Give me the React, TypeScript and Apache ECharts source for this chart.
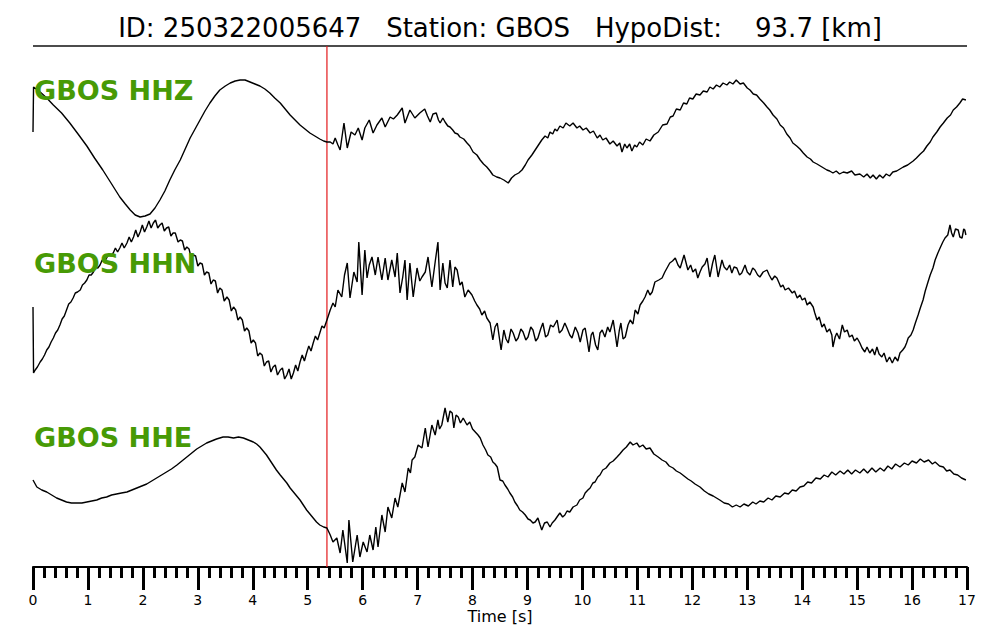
import React, { useEffect, useRef } from "react";
import * as echarts from "echarts";

const TITLE = "ID: 250322005647   Station: GBOS   HypoDist:    93.7 [km]";
const STATION_LABELS = ["GBOS HHZ", "GBOS HHN", "GBOS HHE"];
const X_AXIS_NAME = "Time [s]";
const T_MIN = 0;
const T_MAX = 17;
const P_PICK = 5.35;

// HHZ trace: [time (s), amplitude (counts, arbitrary)]
const hhz: [number, number][] = [
  [0, 18], [0.01, 63], [0.13, 58], [0.25, 52], [0.37, 45], [0.52, 37], [0.67, 27], [0.82, 16], [0.98, 4],
  [1.12, -8], [1.27, -20], [1.42, -33], [1.58, -47], [1.68, -54], [1.77, -60], [1.86, -65], [1.95, -67],
  [2.04, -66], [2.13, -64], [2.22, -58], [2.31, -50], [2.40, -41], [2.49, -30], [2.58, -20], [2.68, -10],
  [2.77, 1], [2.86, 12], [2.95, 21], [3.04, 30], [3.13, 39], [3.22, 47], [3.31, 54], [3.40, 60], [3.50, 64],
  [3.59, 67], [3.68, 69], [3.77, 70], [3.86, 70], [3.95, 68], [4.04, 66], [4.13, 64], [4.22, 61], [4.31, 57],
  [4.40, 52], [4.50, 47], [4.59, 41], [4.68, 35], [4.77, 30], [4.86, 25], [4.95, 21], [5.04, 17], [5.13, 14],
  [5.22, 11], [5.29, 9], [5.35, 8], [5.41, 8], [5.46, 6], [5.50, 12], [5.55, 5], [5.59, 0], [5.66, 27],
  [5.72, 2], [5.79, 18], [5.86, 15], [5.92, 22], [5.99, 10], [6.04, 22], [6.12, 30], [6.19, 17], [6.26, 25],
  [6.35, 32], [6.41, 23], [6.50, 33], [6.56, 31], [6.63, 35], [6.72, 42], [6.77, 27], [6.86, 40], [6.95, 32],
  [7.04, 37], [7.13, 41], [7.18, 34], [7.23, 28], [7.28, 36], [7.34, 37], [7.38, 30], [7.41, 27], [7.46, 32],
  [7.50, 28], [7.55, 24], [7.59, 23], [7.64, 20], [7.68, 17], [7.73, 16], [7.77, 13], [7.84, 11], [7.90, 7],
  [7.95, 4], [8.01, -2], [8.08, -5], [8.14, -10], [8.20, -14], [8.26, -17], [8.32, -21], [8.37, -25],
  [8.44, -27], [8.50, -28], [8.57, -30], [8.65, -33], [8.71, -28], [8.77, -25], [8.84, -23], [8.90, -20],
  [8.96, -15], [9.01, -10], [9.08, -5], [9.14, 0], [9.20, 5], [9.26, 10], [9.32, 14], [9.37, 12], [9.41, 18],
  [9.46, 16], [9.50, 21], [9.54, 19], [9.59, 24], [9.65, 22], [9.70, 27], [9.77, 24], [9.83, 27], [9.90, 22],
  [9.95, 24], [10.01, 20], [10.07, 22], [10.14, 17], [10.20, 19], [10.27, 12], [10.32, 15], [10.37, 10],
  [10.43, 12], [10.50, 6], [10.56, 9], [10.63, 4], [10.68, 7], [10.72, -2], [10.77, 6], [10.81, 2],
  [10.86, 6], [10.90, -1], [10.95, 5], [10.99, 3], [11.04, 8], [11.10, 5], [11.16, 11], [11.23, 9],
  [11.30, 15], [11.38, 18], [11.46, 25], [11.54, 26], [11.60, 33], [11.65, 34], [11.71, 41], [11.78, 40],
  [11.84, 47], [11.90, 46], [11.95, 52], [12.01, 51], [12.07, 56], [12.14, 55], [12.20, 59], [12.27, 58],
  [12.32, 63], [12.38, 61], [12.44, 65], [12.50, 63], [12.56, 67], [12.63, 65], [12.68, 68], [12.74, 66],
  [12.80, 70], [12.87, 66], [12.93, 67], [13.00, 62], [13.05, 60], [13.11, 56], [13.17, 55], [13.23, 51],
  [13.30, 47], [13.36, 43], [13.41, 40], [13.47, 35], [13.54, 31], [13.60, 25], [13.66, 22], [13.72, 16],
  [13.78, 12], [13.83, 7], [13.90, 4], [13.96, 1], [14.02, -3], [14.09, -7], [14.15, -9], [14.20, -12],
  [14.27, -14], [14.33, -16], [14.39, -18], [14.45, -20], [14.50, -21], [14.56, -23], [14.62, -21],
  [14.68, -24], [14.75, -22], [14.82, -23], [14.90, -21], [14.96, -25], [15.05, -24], [15.12, -27],
  [15.18, -24], [15.24, -28], [15.29, -25], [15.35, -29], [15.41, -25], [15.47, -28], [15.53, -24],
  [15.59, -26], [15.65, -22], [15.72, -21], [15.78, -19], [15.84, -17], [15.92, -15], [16.02, -11],
  [16.08, -8], [16.15, -4], [16.21, -1], [16.27, 4], [16.33, 8], [16.38, 13], [16.45, 18], [16.51, 23],
  [16.57, 27], [16.64, 32], [16.70, 35], [16.75, 40], [16.81, 43], [16.87, 47], [16.92, 51], [16.98, 50],
];

// HHN trace
const hhn: [number, number][] = [
  [0, -2], [0.01, -68], [0.04, -65], [0.08, -62], [0.13, -57], [0.17, -54], [0.21, -50], [0.25, -45],
  [0.29, -42], [0.33, -37], [0.37, -33], [0.41, -28], [0.45, -25], [0.49, -20], [0.53, -14], [0.57, -11],
  [0.61, -5], [0.65, 1], [0.69, 3], [0.73, 7], [0.77, 12], [0.81, 13], [0.86, 15], [0.90, 20], [0.94, 22],
  [0.98, 25], [1.02, 30], [1.06, 30], [1.10, 33], [1.14, 38], [1.18, 37], [1.22, 40], [1.26, 45], [1.30, 43],
  [1.34, 47], [1.38, 51], [1.42, 49], [1.46, 52], [1.50, 57], [1.54, 53], [1.58, 57], [1.62, 62], [1.66, 57],
  [1.71, 62], [1.75, 68], [1.79, 63], [1.83, 68], [1.87, 75], [1.91, 68], [1.95, 73], [1.99, 80], [2.03, 73],
  [2.07, 78], [2.11, 84], [2.15, 77], [2.19, 82], [2.23, 85], [2.27, 77], [2.31, 80], [2.35, 82], [2.39, 74],
  [2.43, 77], [2.47, 78], [2.51, 69], [2.55, 72], [2.59, 72], [2.64, 63], [2.68, 65], [2.72, 64], [2.76, 55],
  [2.80, 58], [2.84, 56], [2.88, 47], [2.92, 50], [2.96, 49], [3.00, 39], [3.04, 42], [3.08, 41], [3.12, 30],
  [3.16, 33], [3.20, 32], [3.24, 21], [3.28, 25], [3.32, 24], [3.36, 12], [3.40, 17], [3.44, 15], [3.48, 4],
  [3.53, 8], [3.57, 5], [3.61, -6], [3.65, -2], [3.69, -5], [3.73, -15], [3.77, -12], [3.81, -15], [3.85, -26],
  [3.89, -23], [3.93, -26], [3.97, -38], [4.01, -35], [4.05, -38], [4.09, -51], [4.13, -48], [4.17, -50],
  [4.21, -61], [4.25, -57], [4.29, -56], [4.33, -67], [4.37, -62], [4.41, -60], [4.45, -70], [4.50, -65],
  [4.54, -63], [4.58, -74], [4.62, -70], [4.66, -64], [4.70, -74], [4.74, -68], [4.78, -60], [4.82, -66],
  [4.86, -57], [4.90, -50], [4.94, -56], [4.98, -48], [5.02, -41], [5.06, -46], [5.10, -38], [5.14, -31],
  [5.18, -35], [5.22, -28], [5.26, -21], [5.30, -23], [5.35, -15], [5.41, -5], [5.46, 2], [5.50, -2],
  [5.55, 15], [5.62, 8], [5.67, 30], [5.72, 42], [5.77, 7], [5.84, 33], [5.90, 23], [5.93, 63], [5.99, 10],
  [6.04, 55], [6.08, 27], [6.12, 40], [6.17, 48], [6.23, 30], [6.28, 48], [6.35, 25], [6.41, 47], [6.46, 25],
  [6.53, 45], [6.59, 28], [6.63, 52], [6.68, 12], [6.73, 28], [6.77, 45], [6.81, 5], [6.86, 42], [6.92, 8],
  [6.99, 37], [7.04, 24], [7.08, 28], [7.14, 33], [7.19, 48], [7.26, 18], [7.32, 43], [7.37, 63], [7.41, 15],
  [7.46, 42], [7.50, 22], [7.54, 17], [7.59, 45], [7.64, 18], [7.68, 38], [7.72, 35], [7.77, 20], [7.81, 23],
  [7.86, 8], [7.92, 15], [7.99, 10], [8.04, 4], [8.08, 0], [8.13, -4], [8.17, -10], [8.22, -6], [8.26, -13],
  [8.32, -18], [8.37, -35], [8.41, -22], [8.45, -18], [8.52, -45], [8.57, -25], [8.61, -34], [8.65, -38],
  [8.70, -24], [8.74, -28], [8.79, -36], [8.83, -33], [8.88, -24], [8.92, -27], [8.97, -35], [9.01, -32],
  [9.06, -22], [9.10, -25], [9.15, -36], [9.19, -33], [9.24, -24], [9.28, -18], [9.33, -32], [9.37, -30],
  [9.42, -20], [9.47, -22], [9.54, -15], [9.58, -28], [9.63, -25], [9.68, -18], [9.72, -23], [9.77, -30],
  [9.81, -33], [9.87, -22], [9.92, -28], [9.96, -37], [10.01, -25], [10.05, -23], [10.09, -36], [10.12, -47],
  [10.16, -30], [10.19, -27], [10.24, -40], [10.28, -45], [10.32, -28], [10.36, -25], [10.41, -32],
  [10.46, -22], [10.50, -27], [10.56, -15], [10.60, -30], [10.63, -42], [10.67, -26], [10.70, -18],
  [10.74, -34], [10.78, -32], [10.83, -20], [10.87, -15], [10.92, -19], [10.96, -5], [11.01, -9], [11.05, 0],
  [11.10, 4], [11.14, 8], [11.19, 15], [11.23, 10], [11.27, 13], [11.32, 23], [11.39, 25], [11.45, 27],
  [11.50, 33], [11.55, 38], [11.59, 42], [11.64, 44], [11.69, 47], [11.74, 40], [11.78, 37], [11.85, 50],
  [11.92, 35], [11.97, 40], [12.01, 33], [12.06, 36], [12.10, 27], [12.14, 33], [12.18, 38], [12.23, 41],
  [12.27, 47], [12.32, 28], [12.37, 42], [12.41, 50], [12.47, 28], [12.54, 45], [12.58, 38], [12.63, 35],
  [12.68, 40], [12.72, 32], [12.76, 38], [12.81, 37], [12.86, 30], [12.90, 32], [12.96, 40], [13.00, 33],
  [13.05, 30], [13.10, 37], [13.14, 35], [13.19, 30], [13.23, 28], [13.29, 33], [13.36, 35], [13.40, 30],
  [13.45, 25], [13.50, 29], [13.54, 27], [13.58, 22], [13.61, 18], [13.65, 20], [13.69, 15], [13.75, 17],
  [13.82, 12], [13.86, 14], [13.91, 7], [13.96, 10], [14.00, 5], [14.05, 7], [14.09, 0], [14.14, 3],
  [14.20, -2], [14.23, -8], [14.27, -15], [14.31, -12], [14.36, -22], [14.40, -19], [14.45, -27], [14.50, -24],
  [14.54, -30], [14.56, -42], [14.60, -32], [14.63, -28], [14.68, -34], [14.73, -20], [14.77, -27],
  [14.82, -25], [14.86, -32], [14.91, -30], [14.95, -36], [15.00, -33], [15.05, -38], [15.09, -43],
  [15.14, -47], [15.18, -42], [15.23, -48], [15.28, -44], [15.32, -50], [15.36, -42], [15.40, -49],
  [15.45, -52], [15.49, -48], [15.54, -57], [15.59, -52], [15.64, -58], [15.69, -52], [15.74, -56],
  [15.78, -48], [15.83, -45], [15.87, -42], [15.90, -38], [15.93, -33], [15.98, -30], [16.02, -25],
  [16.06, -18], [16.11, -10], [16.15, -3], [16.20, 5], [16.24, 14], [16.29, 23], [16.33, 30], [16.38, 37],
  [16.42, 45], [16.47, 52], [16.51, 57], [16.56, 63], [16.60, 67], [16.65, 70], [16.69, 80], [16.72, 72],
  [16.75, 68], [16.79, 76], [16.84, 75], [16.87, 68], [16.91, 67], [16.94, 76], [16.96, 75], [16.98, 70],
];

// HHE trace
const hhe: [number, number][] = [
  [0, 5], [0.07, -2], [0.16, -5], [0.25, -7], [0.34, -10], [0.43, -13], [0.52, -15], [0.61, -17],
  [0.70, -18], [0.80, -18], [0.89, -18], [0.98, -17], [1.07, -16], [1.16, -15], [1.25, -13], [1.34, -12],
  [1.43, -10], [1.52, -9], [1.61, -8], [1.71, -7], [1.80, -5], [1.89, -3], [1.98, -1], [2.07, 1], [2.16, 4],
  [2.25, 7], [2.34, 10], [2.43, 13], [2.52, 16], [2.62, 20], [2.71, 24], [2.80, 28], [2.89, 32], [2.98, 36],
  [3.07, 39], [3.16, 42], [3.25, 44], [3.34, 46], [3.40, 47], [3.46, 48], [3.55, 48], [3.65, 47], [3.74, 48],
  [3.83, 47], [3.92, 45], [4.01, 43], [4.07, 41], [4.13, 38], [4.19, 34], [4.25, 30], [4.31, 25], [4.37, 20],
  [4.43, 15], [4.50, 10], [4.56, 6], [4.62, 2], [4.68, -3], [4.74, -7], [4.80, -11], [4.86, -15], [4.92, -20],
  [4.98, -25], [5.04, -29], [5.10, -33], [5.16, -37], [5.22, -40], [5.29, -42], [5.35, -43], [5.41, -50],
  [5.46, -57], [5.53, -53], [5.59, -68], [5.64, -45], [5.72, -78], [5.75, -35], [5.82, -77], [5.90, -50],
  [5.95, -72], [6.01, -57], [6.08, -67], [6.13, -50], [6.19, -65], [6.24, -42], [6.28, -62], [6.35, -30],
  [6.41, -47], [6.46, -22], [6.53, -33], [6.59, -13], [6.64, -22], [6.72, 2], [6.77, -7], [6.83, 17],
  [6.87, 12], [6.90, 25], [6.95, 28], [7.01, 40], [7.08, 37], [7.14, 57], [7.19, 38], [7.26, 60], [7.32, 50],
  [7.37, 65], [7.40, 56], [7.44, 60], [7.50, 77], [7.55, 63], [7.59, 74], [7.63, 72], [7.66, 57], [7.70, 70],
  [7.74, 68], [7.78, 62], [7.83, 67], [7.90, 60], [7.95, 63], [8.00, 56], [8.05, 53], [8.10, 50], [8.14, 47],
  [8.19, 40], [8.24, 35], [8.28, 30], [8.33, 28], [8.37, 23], [8.41, 21], [8.45, 18], [8.50, 5], [8.55, 4],
  [8.59, 0], [8.64, -4], [8.68, -8], [8.73, -12], [8.77, -17], [8.82, -21], [8.86, -25], [8.91, -27],
  [8.96, -30], [9.01, -34], [9.05, -35], [9.10, -38], [9.14, -37], [9.19, -33], [9.23, -40], [9.26, -45],
  [9.31, -38], [9.36, -37], [9.41, -42], [9.45, -38], [9.50, -35], [9.55, -31], [9.59, -28], [9.64, -32],
  [9.68, -30], [9.72, -26], [9.77, -27], [9.83, -22], [9.90, -20], [9.95, -15], [10.01, -13], [10.05, -8],
  [10.10, -5], [10.14, -3], [10.19, 2], [10.23, 3], [10.28, 8], [10.32, 10], [10.37, 15], [10.43, 17],
  [10.50, 22], [10.56, 24], [10.63, 28], [10.68, 31], [10.74, 35], [10.80, 38], [10.87, 43], [10.92, 40],
  [10.99, 42], [11.04, 38], [11.10, 40], [11.16, 36], [11.23, 37], [11.30, 31], [11.38, 28], [11.45, 25],
  [11.52, 23], [11.58, 19], [11.65, 17], [11.71, 14], [11.78, 12], [11.85, 9], [11.92, 6], [11.98, 4],
  [12.05, 1], [12.14, -2], [12.22, -6], [12.30, -9], [12.38, -11], [12.44, -13], [12.50, -15], [12.58, -18],
  [12.66, -19], [12.73, -22], [12.80, -20], [12.87, -22], [12.94, -19], [13.02, -21], [13.10, -17],
  [13.16, -19], [13.23, -16], [13.30, -17], [13.38, -13], [13.45, -15], [13.52, -11], [13.60, -12],
  [13.68, -8], [13.75, -9], [13.82, -5], [13.89, -6], [13.96, -2], [14.03, -1], [14.10, 3], [14.17, 2],
  [14.25, 7], [14.33, 6], [14.40, 10], [14.47, 8], [14.54, 13], [14.61, 10], [14.69, 14], [14.76, 11],
  [14.83, 15], [14.90, 11], [14.97, 15], [15.05, 12], [15.12, 16], [15.19, 12], [15.27, 17], [15.34, 13],
  [15.42, 17], [15.49, 14], [15.56, 19], [15.63, 16], [15.70, 21], [15.78, 18], [15.86, 22], [15.93, 20],
  [16.00, 24], [16.08, 22], [16.15, 26], [16.22, 23], [16.30, 25], [16.37, 21], [16.42, 23], [16.50, 19],
  [16.57, 18], [16.63, 14], [16.69, 15], [16.76, 11], [16.83, 10], [16.90, 7], [16.98, 5],
];

const TRACES = [hhz, hhn, hhe];
const AMP_MIN = [-72, -85, -82];
const AMP_MAX = [72, 85, 85];

export default function App() {
  const ref = useRef<HTMLDivElement>(null);

  useEffect(() => {
    if (!ref.current) return;
    const chart = echarts.init(ref.current, undefined, { renderer: "svg" });
    const font = "'DejaVu Sans', 'Liberation Sans', sans-serif";
    const grids = [
      { left: 33, right: 33, top: 78, height: 144 },
      { left: 33, right: 33, top: 220, height: 170 },
      { left: 33, right: 33, top: 400, height: 167 },
      { left: 33, right: 33, top: 46, height: 521 },
    ];
    const xAxes: any[] = grids.map((_, i) => ({
      type: "value",
      gridIndex: i,
      min: T_MIN,
      max: T_MAX,
      interval: 1,
      show: i === 2,
      axisLine: { show: true, onZero: false, lineStyle: { color: "#000", width: 2 } },
      axisTick: { show: true, inside: false, length: 23, lineStyle: { color: "#000", width: 3 } },
      minorTick: { show: true, splitNumber: 5, length: 11, lineStyle: { color: "#000", width: 3 } },
      axisLabel: { show: true, color: "#000", fontSize: 14, margin: 26, fontFamily: font },
      splitLine: { show: false },
      minorSplitLine: { show: false },
    }));
    const yAxes: any[] = grids.map((_, i) => ({
      type: "value",
      gridIndex: i,
      min: i < 3 ? AMP_MIN[i] : 0,
      max: i < 3 ? AMP_MAX[i] : 1,
      show: false,
      splitLine: { show: false },
    }));
    const series: any[] = TRACES.map((d, i) => ({
      type: "line",
      xAxisIndex: i,
      yAxisIndex: i,
      data: d,
      showSymbol: false,
      symbol: "none",
      z: 3,
      lineStyle: { color: "#000", width: 1.4 },
    }));
    series.push({
      type: "line",
      xAxisIndex: 3,
      yAxisIndex: 3,
      data: [
        [P_PICK, 0],
        [P_PICK, 1],
      ],
      showSymbol: false,
      symbol: "none",
      z: 2,
      lineStyle: { color: "#e3191c", width: 1.2 },
    });
    const labelY = [90, 263, 437];
    const graphic: any[] = [
      {
        type: "text",
        x: 500,
        y: 28,
        z: 10,
        style: { text: TITLE, fill: "#000", font: `26px ${font}`, align: "center", verticalAlign: "middle" },
      },
      {
        type: "line",
        shape: { x1: 33, y1: 46, x2: 967, y2: 46 },
        style: { stroke: "#111", lineWidth: 1.5 },
      },
      {
        type: "text",
        x: 500,
        y: 616,
        style: { text: X_AXIS_NAME, fill: "#000", font: `16px ${font}`, align: "center", verticalAlign: "middle" },
      },
      ...STATION_LABELS.map((s, i) => ({
        type: "text",
        x: 34,
        y: labelY[i],
        z: 20,
        style: {
          text: s,
          fill: "#479a05",
          font: `bold 27px ${font}`,
          align: "left",
          verticalAlign: "middle",
        },
      })),
    ];
    chart.setOption({
      animation: false,
      backgroundColor: "#fff",
      grid: grids,
      xAxis: xAxes,
      yAxis: yAxes,
      series,
      graphic,
    });
    return () => chart.dispose();
  }, []);

  return (
    <div
      ref={ref}
      style={{ position: "fixed", left: 0, top: 0, width: 1000, height: 640, background: "#fff" }}
    />
  );
}
